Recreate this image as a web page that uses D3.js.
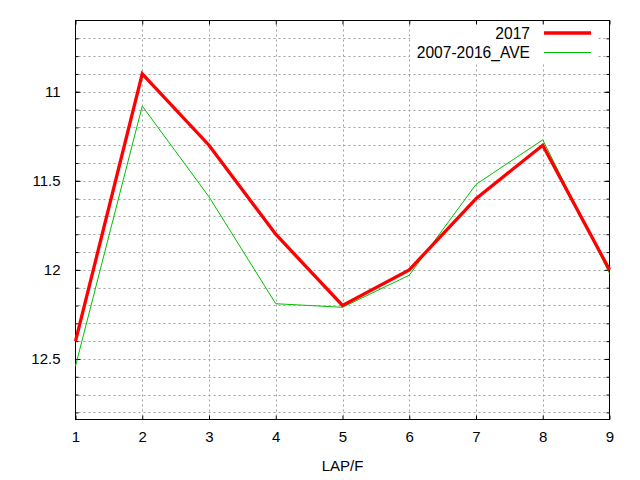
<!DOCTYPE html>
<html>
<head>
<meta charset="utf-8">
<script src="https://cdn.jsdelivr.net/npm/d3@7"></script>
<style>
  body { margin: 0; background: #fff; }
  text { font-family: "Liberation Sans", Arial, sans-serif; font-size: 15px; fill: #000; }
</style>
</head>
<body>
<div></div>
<script>
const laps = [1, 2, 3, 4, 5, 6, 7, 8, 9];
const series2017 = [12.4, 10.9, 11.3, 11.8, 12.2, 12.0, 11.6, 11.3, 12.0];
const seriesAve = [12.54, 11.08, 11.59, 12.19, 12.21, 12.03, 11.52, 11.27, 12.02];
const yMajorTicks = [11, 11.5, 12, 12.5];
const yMinorTicks = d3.range(107, 129).map(d => d / 10);
const seriesNames = ['2017', '2007-2016_AVE'];

const svgWidth = 640,
    svgHeight = 480,
    plotLeft = 75.5,
    plotRight = 609.5,
    plotTop = 20.5,
    plotBottom = 419.5;

const svg = d3.select('body')
    .select('div')
    .append('svg')
    .attr('width', svgWidth)
    .attr('height', svgHeight);

const xScale = d3.scaleLinear()
    .domain([1, 9])
    .range([plotLeft, plotRight]);

const yScale = d3.scaleLinear()
    .domain([10.6, 12.84])
    .range([plotTop, plotBottom]);

// grid
const grid = svg.append('g')
    .attr('stroke', '#a0a0a0')
    .attr('stroke-width', 1)
    .attr('stroke-dasharray', '2,3');

grid.selectAll('.hgrid')
    .data(yMinorTicks)
    .enter()
    .append('line')
    .attr('x1', plotLeft + 3)
    .attr('x2', plotRight - 3)
    .attr('y1', d => Math.round(yScale(d)) + 0.5)
    .attr('y2', d => Math.round(yScale(d)) + 0.5);

grid.selectAll('.vgrid')
    .data(laps.slice(1, -1))
    .enter()
    .append('line')
    .attr('x1', d => Math.round(xScale(d)) + 0.5)
    .attr('x2', d => Math.round(xScale(d)) + 0.5)
    .attr('y1', plotTop + 4)
    .attr('y2', plotBottom - 4);

// legend background hides the grid
svg.append('rect')
    .attr('x', 410)
    .attr('y', plotTop + 1)
    .attr('width', 188)
    .attr('height', 41)
    .attr('fill', '#fff');

// axes with inward ticks
const yMinorLeft = d3.axisLeft(yScale).tickValues(yMinorTicks).tickSize(-3).tickFormat('');
const yMinorRight = d3.axisRight(yScale).tickValues(yMinorTicks).tickSize(-3).tickFormat('');
const yMajorLeft = d3.axisLeft(yScale).tickValues(yMajorTicks).tickSize(-5).tickPadding(15).tickFormat(d3.format('~g'));
const yMajorRight = d3.axisRight(yScale).tickValues(yMajorTicks).tickSize(-5).tickFormat('');
const xBottom = d3.axisBottom(xScale).tickValues(laps).tickSize(-4).tickPadding(12).tickFormat(d3.format('d'));
const xTop = d3.axisTop(xScale).tickValues(laps).tickSize(-4).tickFormat('');

function styleAxis(g) {
    g.select('.domain').remove();
    g.selectAll('.tick line').attr('stroke', '#000');
    g.selectAll('.tick text')
        .style('font-family', '"Liberation Sans", Arial, sans-serif')
        .style('font-size', '15px')
        .attr('fill', '#000');
}

svg.append('g').attr('transform', `translate(${plotLeft},0)`).call(yMinorLeft).call(styleAxis);
svg.append('g').attr('transform', `translate(${plotRight},0)`).call(yMinorRight).call(styleAxis);
svg.append('g').attr('transform', `translate(${plotLeft},0)`).call(yMajorLeft).call(styleAxis);
svg.append('g').attr('transform', `translate(${plotRight},0)`).call(yMajorRight).call(styleAxis);
svg.append('g').attr('transform', `translate(0,${plotBottom})`).call(xBottom).call(styleAxis);
svg.append('g').attr('transform', `translate(0,${plotTop})`).call(xTop).call(styleAxis);

// frame
svg.append('rect')
    .attr('x', plotLeft)
    .attr('y', plotTop)
    .attr('width', plotRight - plotLeft)
    .attr('height', plotBottom - plotTop)
    .attr('fill', 'none')
    .attr('stroke', '#000')
    .attr('stroke-width', 1);

// lines
const line = d3.line()
    .x((d, i) => xScale(laps[i]))
    .y(d => yScale(d));

svg.append('path')
    .datum(seriesAve)
    .attr('d', line)
    .attr('fill', 'none')
    .attr('stroke', '#00c000')
    .attr('stroke-width', 1);

svg.append('path')
    .datum(series2017)
    .attr('d', line)
    .attr('fill', 'none')
    .attr('stroke', '#ff0000')
    .attr('stroke-width', 3.3);

// legend
const legend = svg.append('g').attr('id', 'legend');
const legendColors = ['#ff0000', '#00c000'];
const legendWidths = [3.3, 1];
seriesNames.forEach((name, i) => {
    const y = 33 + i * 19.5;
    legend.append('text')
        .attr('x', 530)
        .attr('y', y)
        .attr('text-anchor', 'end')
        .attr('dy', '0.36em')
        .style('font-size', '15.6px')
        .text(name);
    legend.append('line')
        .attr('x1', 544)
        .attr('x2', 591)
        .attr('y1', y)
        .attr('y2', y)
        .attr('stroke', legendColors[i])
        .attr('stroke-width', legendWidths[i]);
});

// x label
svg.append('text')
    .attr('x', (plotLeft + plotRight) / 2)
    .attr('y', 466)
    .attr('dy', '0.36em')
    .attr('text-anchor', 'middle')
    .text('LAP/F');
</script>
</body>
</html>
